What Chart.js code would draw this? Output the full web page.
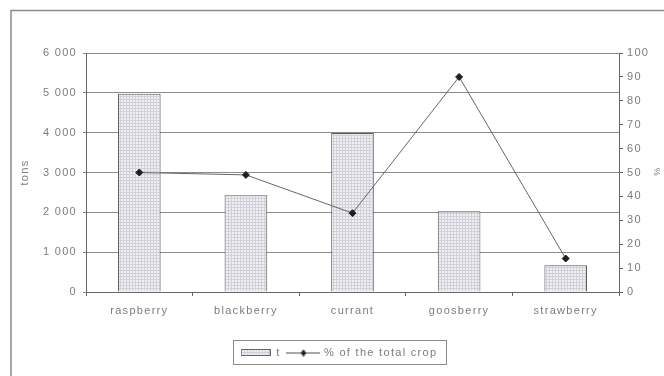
<!DOCTYPE html>
<html>
<head>
<meta charset="utf-8">
<script src="https://cdn.jsdelivr.net/npm/chart.js@4/dist/chart.umd.min.js"></script>
<style>
  html, body { margin: 0; padding: 0; background: #fff; }
  #wrap { width: 664px; height: 376px; }
</style>
</head>
<body>
<div id="wrap"><canvas id="c" width="664" height="376"></canvas></div>
<script>
// Berry harvest: tonnage per crop and its share of the total crop
const categories = ['raspberry', 'blackberry', 'currant', 'goosberry', 'strawberry'];
const tons = [4980, 2430, 3990, 2030, 670];
const shareOfCrop = [50, 49, 33, 90, 14];
const tonsTickMax = 6000;
const tonsTickStep = 1000;
const shareTickMax = 100;
const shareTickStep = 10;

const FONT = 'Liberation Sans, Arial, sans-serif';
const TEXT = '#7c7c7c';
const SPACING = '1.3px';

// fine stippled fill used for the bars
function stipple() {
  const p = document.createElement('canvas');
  p.width = 3; p.height = 3;
  const g = p.getContext('2d');
  g.fillStyle = '#f0f0f4';
  g.fillRect(0, 0, 3, 3);
  g.fillStyle = '#d0d0d8';
  g.fillRect(0, 0, 3, 1);
  g.fillRect(0, 0, 1, 3);
  return document.getElementById('c').getContext('2d').createPattern(p, 'repeat');
}
const barFill = stipple();

// legend swatches
function barSwatch() {
  const s = document.createElement('canvas');
  s.width = 30; s.height = 7;
  const g = s.getContext('2d');
  g.fillStyle = barFill;
  g.fillRect(0.5, 0.5, 29, 6);
  g.strokeStyle = '#666';
  g.lineWidth = 1;
  g.strokeRect(0.5, 0.5, 29, 6);
  return s;
}
function lineSwatch() {
  const s = document.createElement('canvas');
  s.width = 34; s.height = 8;
  const g = s.getContext('2d');
  g.strokeStyle = '#555';
  g.lineWidth = 1;
  g.beginPath(); g.moveTo(0, 4.5); g.lineTo(34, 4.5); g.stroke();
  g.fillStyle = '#222';
  g.beginPath(); g.moveTo(17, 1); g.lineTo(20, 4.5); g.lineTo(17, 8); g.lineTo(14, 4.5); g.closePath(); g.fill();
  return s;
}

const spaced = (v) => String(v).replace(/\B(?=(\d{3})+(?!\d))/g, ' ');

const decor = {
  id: 'decor',
  beforeLayout(chart) { chart.ctx.letterSpacing = SPACING; },
  beforeDraw(chart) {
    const ctx = chart.ctx;
    ctx.save();
    ctx.strokeStyle = '#8a8a8a';
    ctx.lineWidth = 1.5;
    ctx.beginPath();
    ctx.moveTo(11, chart.height);
    ctx.lineTo(11, 10.5);
    ctx.lineTo(chart.width, 10.5);
    ctx.stroke();
    ctx.restore();
    ctx.letterSpacing = SPACING;
  },
  afterDraw(chart) {
    const lg = chart.legend;
    if (!lg || !lg.legendHitBoxes || !lg.legendHitBoxes.length) return;
    const boxes = lg.legendHitBoxes;
    let x0 = Infinity, x1 = -Infinity, y0 = Infinity, y1 = -Infinity;
    boxes.forEach(b => {
      x0 = Math.min(x0, b.left); x1 = Math.max(x1, b.left + b.width);
      y0 = Math.min(y0, b.top); y1 = Math.max(y1, b.top + b.height);
    });
    const ctx = chart.ctx;
    ctx.save();
    ctx.strokeStyle = '#8a8a8a';
    ctx.lineWidth = 1;
    ctx.strokeRect(Math.round(x0 - 8) + 0.5, Math.round(y0 - 7) + 0.5, Math.round(x1 - x0 + 16), Math.round(y1 - y0 + 13));
    ctx.restore();
  }
};

new Chart(document.getElementById('c'), {
  data: {
    labels: categories,
    datasets: [
      {
        type: 'bar',
        label: 't',
        data: tons,
        yAxisID: 'y',
        backgroundColor: barFill,
        borderColor: '#5a5a5a',
        borderWidth: 1,
        categoryPercentage: 1,
        barPercentage: 0.4,
        order: 2
      },
      {
        type: 'line',
        label: '% of the total crop',
        data: shareOfCrop,
        yAxisID: 'y1',
        borderColor: '#666',
        borderWidth: 1,
        pointStyle: 'rectRot',
        pointRadius: 3.5,
        pointBackgroundColor: '#1e1e1e',
        pointBorderColor: '#1e1e1e',
        tension: 0,
        order: 1
      }
    ]
  },
  options: {
    responsive: false,
    animation: false,
    events: [],
    layout: { padding: { left: 14, right: 0, top: 53, bottom: 8 } },
    plugins: {
      tooltip: { enabled: false },
      legend: {
        position: 'bottom',
        labels: {
          usePointStyle: true,
          pointStyleWidth: 30,
          padding: 8,
          color: TEXT,
          font: { family: FONT, size: 11 },
          generateLabels(chart) {
            return chart.data.datasets.map((ds, i) => ({
              text: ds.label,
              pointStyle: i === 0 ? barSwatch() : lineSwatch(),
              fillStyle: 'transparent',
              strokeStyle: 'transparent',
              lineWidth: 0,
              fontColor: TEXT,
              datasetIndex: i
            }));
          }
        }
      }
    },
    scales: {
      x: {
        offset: true,
        afterFit(s) { s.height = 47; },
        grid: { offset: true, drawOnChartArea: false, tickLength: 4, color: '#666' },
        border: { color: '#666', width: 1 },
        ticks: { color: TEXT, font: { family: FONT, size: 11 }, padding: 8 }
      },
      y: {
        position: 'left',
        min: 0,
        max: tonsTickMax,
        afterFit(s) { s.width = 72; },
        ticks: { stepSize: tonsTickStep, color: TEXT, font: { family: FONT, size: 11 }, padding: 6, callback: spaced },
        grid: { color: '#8c8c8c', lineWidth: 1, tickLength: 3 },
        border: { color: '#666', width: 1 },
        title: { display: true, text: 'tons', color: TEXT, font: { family: FONT, size: 11 }, padding: 4 }
      },
      y1: {
        position: 'right',
        min: 0,
        max: shareTickMax,
        afterFit(s) { s.width = 45; },
        ticks: { stepSize: shareTickStep, color: TEXT, font: { family: FONT, size: 11 }, padding: 4 },
        grid: { drawOnChartArea: false, tickLength: 4, color: '#666' },
        border: { color: '#666', width: 1 },
        title: { display: true, text: '%', color: TEXT, font: { family: FONT, size: 9 }, padding: 2 }
      }
    }
  },
  plugins: [decor]
});
</script>
</body>
</html>
